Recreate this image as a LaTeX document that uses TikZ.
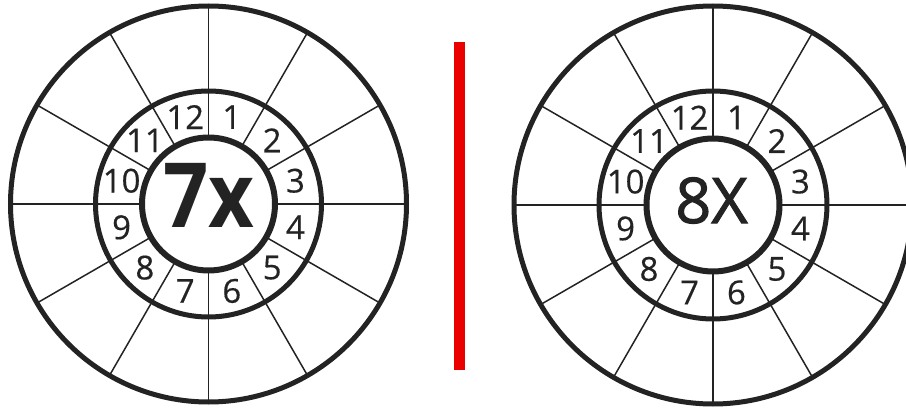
\documentclass[tikz,border=0pt]{standalone}
\usepackage{fontspec}
\setmainfont{Open Sans}
\newfontfamily\wheelfont{Open Sans}[FakeBold=0.4]
\newfontfamily\hubfont{Open Sans}[FakeBold=1.6]
\usetikzlibrary{positioning}
\definecolor{wheelink}{RGB}{35,35,35}
\definecolor{dividerred}{RGB}{235,0,0}
\tikzset{
  rimline/.style={draw=wheelink, line width=2.5pt},
  hubline/.style={draw=wheelink, line width=3pt},
  spoke/.style={draw=wheelink, line width=0.75pt},
  numlabel/.style={font=\wheelfont\fontsize{16.5}{18}\selectfont, text=wheelink, inner sep=0pt},
  hublabel/.style={text=wheelink, inner sep=0pt},
  divider/.style={draw=dividerred, line width=5.5pt}
}
\begin{document}
\begin{tikzpicture}[x=0.5pt, y=0.5pt]
  \useasboundingbox (0,0) rectangle (906,408);
  \clip (0,0) rectangle (906,408);

  % ── Left wheel (7x) ────────────────────────────────────────────────
  \begin{scope}[shift={(208.5,204)}]
    \foreach \a in {0,30,...,330}
      \draw[spoke] (\a:66.5) -- (\a:198);
    \draw[rimline] (0,0) circle[radius=198];
    \draw[rimline] (0,0) circle[radius=113];
    \draw[hubline] (0,0) circle[radius=66.5];
    % clock numbers in the ring
    \foreach \k in {1,...,12}
      \node[numlabel] (L\k) at ({105-30*\k}:90) {\k};
    \node[hublabel, xscale=0.88, font=\fontsize{45}{50}\selectfont\bfseries] (Lhub) at (0,9) {7x};
  \end{scope}

  % ── Divider ────────────────────────────────────────────────────────
  \coordinate (dividertop) at (459.5,366);
  \coordinate (dividerbot) at (459.5,38);
  \draw[divider] (dividertop) -- (dividerbot);

  % ── Right wheel (8X) ───────────────────────────────────────────────
  \begin{scope}[shift={(713,203)}]
    \foreach \a in {0,30,...,330}
      \draw[spoke] (\a:66.5) -- (\a:199);
    \draw[rimline] (0,0) circle[radius=199];
    \draw[rimline] (0,0) circle[radius=114];
    \draw[hubline] (0,0) circle[radius=66.5];
    % clock numbers in the ring
    \foreach \k in {1,...,12}
      \node[numlabel] (R\k) at ({105-30*\k}:90.5) {\k};
    \node[hublabel, font=\hubfont\fontsize{31.5}{36}\selectfont] (Rhub) at (-1.5,4.5) {8X};
  \end{scope}
\end{tikzpicture}
\end{document}
